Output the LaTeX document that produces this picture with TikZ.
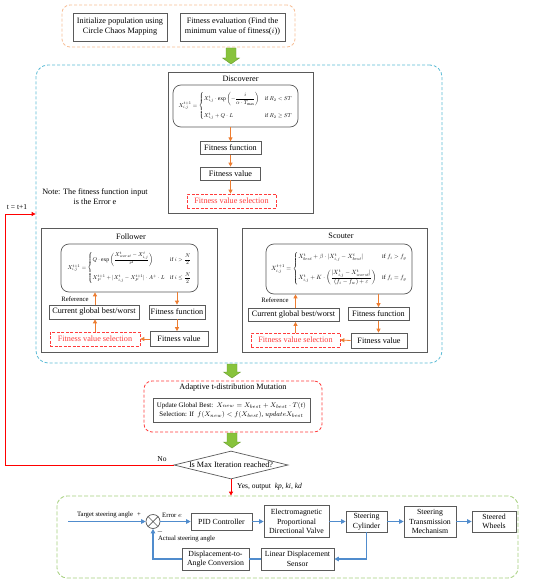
\documentclass[tikz,border=0pt]{standalone}
\usepackage{fontspec}
\setmainfont{Liberation Serif}
\usepackage{amsmath}
\usepackage{graphicx}
\usetikzlibrary{arrows.meta,shapes.geometric,calc}

\definecolor{cyanb}{RGB}{91,187,214}
\definecolor{orangeb}{RGB}{247,190,150}
\definecolor{greenb}{RGB}{165,208,125}
\definecolor{oarr}{RGB}{237,125,49}
\definecolor{redd}{RGB}{255,60,60}
\definecolor{gboxc}{RGB}{90,90,90}
\definecolor{blueline}{RGB}{80,140,205}
\definecolor{garrow}{RGB}{135,195,60}
\definecolor{garrowd}{RGB}{105,155,50}

\newcommand{\gblockarrow}[3]{\filldraw[fill=garrow,draw=garrowd,line width=0.4pt]
  ({#1-5},#2) -- ({#1+5},#2) -- ({#1+5},{#3-6}) -- ({#1+8.5},{#3-6}) -- (#1,#3)
  -- ({#1-8.5},{#3-6}) -- ({#1-5},{#3-6}) -- cycle;}

\tikzset{
  base/.style={font=\fontsize{8.2}{10}\selectfont, inner sep=0pt},
  smalltxt/.style={font=\fontsize{6.7}{8}\selectfont, inner sep=0pt},
  midtxt/.style={font=\fontsize{7.5}{9}\selectfont, inner sep=0pt},
  blk/.style={base, draw=gboxc, line width=0.7pt, inner sep=1pt, align=center},
  blkb/.style={font=\fontsize{7.8}{9.6}\selectfont, draw=gboxc, line width=0.7pt, inner sep=1pt, align=center},
  redbox/.style={base, draw=redd, line width=0.7pt, dash pattern=on 3pt off 1.5pt, text=redd, inner sep=1pt},
  fmbox/.style={draw=gboxc, line width=0.7pt, rounded corners=8pt, inner sep=0pt},
  frameo/.style={draw=orangeb, line width=0.8pt, dash pattern=on 3pt off 2pt, rounded corners=8pt},
  framec/.style={draw=cyanb, line width=0.8pt, dash pattern=on 3pt off 2pt, rounded corners=12pt},
  framer/.style={draw=redd, line width=0.8pt, dash pattern=on 3pt off 2pt, rounded corners=8pt},
  frameg/.style={draw=greenb, line width=0.8pt, dash pattern=on 4pt off 2pt, rounded corners=10pt},
  oarrow/.style={draw=oarr, line width=0.8pt, -{Triangle[length=4pt,width=4pt]}},
  barrow/.style={draw=blueline, line width=1.1pt, -{Triangle[length=4.5pt,width=4.5pt]}},
  bline/.style={draw=blueline, line width=1.1pt},
  rarrow/.style={draw=red, line width=0.8pt, -{Triangle[length=4pt,width=4pt]}},
}

\begin{document}
\begin{tikzpicture}[x=1pt,y=-1pt]
\fill[white] (0,0) rectangle (550,583);
\useasboundingbox (0,0) rectangle (550,583);

% ---------- top ----------
\node[frameo, minimum width=233, minimum height=42] (topframe) at (178.5,26) {};
\node[blk, minimum width=94, minimum height=28] (init) at (120,27) {Initialize population using\\Circle Chaos Mapping};
\node[blk, minimum width=105, minimum height=28] (feval) at (232.5,27) {Fitness evaluation (Find the\\minimum value of fitness($i$))};
\gblockarrow{231}{48}{64}

% ---------- cyan frame ----------
\node[framec, minimum width=406, minimum height=298] (cframe) at (239,214) {};

% ---------- discoverer ----------
\node[blk, minimum width=145, minimum height=141] (disc) at (240.5,142.5) {};
\node[base] (disct) at (240.5,79) {Discoverer};
\node[fmbox, minimum width=125, minimum height=42] (dform) at (235.5,106) {\resizebox{114pt}{!}{$X_{i,j}^{t+1}=\begin{cases}X_{i,j}^{t}\cdot\exp\left(-\dfrac{i}{\alpha\cdot T_{\max}}\right) & \text{if } R_2<ST\\[16pt] X_{i,j}^{t}+Q\cdot L & \text{if } R_2\geq ST\end{cases}$}};
\node[blk, minimum width=61, minimum height=12.5] (dff) at (230.5,148) {Fitness function};
\node[blk, minimum width=60, minimum height=13] (dfv) at (230.5,173.5) {Fitness value};
\node[redbox, minimum width=89, minimum height=14] (dfvs) at (231.5,201) {Fitness value selection};
\draw[oarrow] (dform.south -| dff) -- (dff.north);
\draw[oarrow] (dff.south) -- (dfv.north);
\draw[oarrow] (dfv.south) -- (dfvs.north -| dfv);

\node[base, align=center] (note) at (95,197) {Note: The fitness function input\\is the Error e};

% ---------- follower ----------
\node[blk, minimum width=176, minimum height=124] (fol) at (129,290) {};
\node[base] (folt) at (131,237) {Follower};
\node[fmbox, minimum width=137, minimum height=48] (fform) at (129.5,268) {\resizebox{124pt}{!}{$X_{i,j}^{t+1}=\begin{cases}Q\cdot\exp\left(\dfrac{X_{worst}^{t}-X_{i,j}^{t}}{i^{2}}\right) & \text{if } i>\dfrac{N}{2}\\[16pt] X_{P}^{t+1}+|X_{i,j}^{t}-X_{P}^{t+1}|\cdot A^{+}\cdot L & \text{if } i\leq\dfrac{N}{2}\end{cases}$}};
\node[blk, minimum width=90, minimum height=14] (fcg) at (94,312) {Current global best/worst};
\node[blk, minimum width=56, minimum height=14] (fff) at (177,312) {Fitness function};
\node[redbox, minimum width=90, minimum height=14] (ffvs) at (95,339) {Fitness value selection};
\node[blk, minimum width=58, minimum height=15] (ffv) at (179,339) {Fitness value};
\node[smalltxt] (fref) at (75,299) {Reference};
\draw[oarrow] (fform.south -| fff) -- (fff.north);
\draw[oarrow] (fff.south) -- (fff.south |- ffv.north);
\draw[oarrow] (ffv.west) -- (ffvs.east);
\draw[oarrow] (ffvs.north) -- (ffvs.north |- fcg.south);
\draw[oarrow] (fcg.north -| ffvs) -- (fform.south -| ffvs);

% ---------- scouter ----------
\node[blk, minimum width=185, minimum height=124] (sco) at (334.5,290) {};
\node[base] (scot) at (341,236) {Scouter};
\node[fmbox, minimum width=146, minimum height=50] (sform) at (339,269) {\resizebox{136pt}{!}{$X_{i,j}^{t+1}=\begin{cases}X_{best}^{t}+\beta\cdot|X_{i,j}^{t}-X_{best}^{t}| & \text{if } f_i>f_g\\[14pt] X_{i,j}^{t}+K\cdot\left(\dfrac{|X_{i,j}^{t}-X_{worst}^{t}|}{(f_i-f_w)+\varepsilon}\right) & \text{if } f_i=f_g\end{cases}$}};
\node[blk, minimum width=91, minimum height=13] (scg) at (293.5,315) {Current global best/worst};
\node[blk, minimum width=61, minimum height=13] (sff) at (378.5,314) {Fitness function};
\node[redbox, minimum width=89, minimum height=14] (sfvs) at (295.5,340) {Fitness value selection};
\node[blk, minimum width=56, minimum height=15] (sfv) at (379,340.5) {Fitness value};
\node[smalltxt] (sref) at (275,300) {Reference};
\draw[oarrow] (sform.south -| sff) -- (sff.north);
\draw[oarrow] (sff.south) -- (sff.south |- sfv.north);
\draw[oarrow] (sfv.west) -- (sfvs.east);
\draw[oarrow] (sfvs.north) -- (sfvs.north |- scg.south);
\draw[oarrow] (scg.north -| sfvs) -- (sform.south -| sfvs);

% ---------- adaptive ----------
\gblockarrow{232}{364}{378}
\node[framer, minimum width=178, minimum height=51] (adapt) at (233,406.5) {};
\node[base] (adaptt) at (233,388) {Adaptive t-distribution Mutation};
\node[blk, minimum width=157, minimum height=24, inner sep=0pt] (upd) at (231.5,410) {\resizebox{149pt}{!}{\begin{tabular}{@{}c@{}}Update Global Best:\ \ $X_{new}=X_{best}+X_{best}\cdot T(t)$\\[1pt]Selection: If\ \ $f(X_{new})<f(X_{best})$, $updateX_{best}$\end{tabular}}};
\gblockarrow{232}{433}{448}

% ---------- decision ----------
\node[diamond, draw=gboxc, line width=0.7pt, minimum width=114, minimum height=28, inner sep=0pt, font=\fontsize{8.2}{10}\selectfont] (dia) at (231,465) {\makebox[0pt][c]{Is Max Iteration reached?}};
\node[midtxt] (nolab) at (162,459) {No};
\node[midtxt] (tlab1) at (17,207) {t = t+1};
\coordinate (lp) at (5,214);
\coordinate (lq) at (5,465);
\draw[rarrow] (dia.west) -- (lq) -- (lp) -- (cframe.west |- lp);

% ---------- bottom ----------
\node[frameg, minimum width=461, minimum height=82] (bframe) at (287.5,537) {};
\draw[rarrow] (dia.south) -- (dia.south |- bframe.north);
\node[midtxt, anchor=west] (yes) at (237,487) {Yes, output\ \ \textit{kp, ki, kd}};

\node[blkb, minimum width=61, minimum height=17] (pid) at (221.5,521.5) {PID Controller};
\node[blkb, minimum width=65, minimum height=32] (em) at (296.5,521.5) {Electromagnetic\\Proportional\\Directional Valve};
\node[blkb, minimum width=41, minimum height=21] (cyl) at (366.5,521.5) {Steering\\Cylinder};
\node[blkb, minimum width=52, minimum height=31] (stm) at (430,521.5) {Steering\\Transmission\\Mechanism};
\node[blkb, minimum width=44, minimum height=21] (sw) at (494,521.5) {Steered\\Wheels};
\node[blkb, minimum width=73, minimum height=22] (lds) at (297.5,559) {Linear Displacement\\Sensor};
\node[blkb, minimum width=67, minimum height=22] (dac) at (215.5,559) {Displacement-to-\\Angle Conversion};

\node[draw=gboxc, line width=0.7pt, circle, minimum size=14, inner sep=0pt] (sum) at (153,521.5) {};
\draw[gboxc, line width=0.7pt] (sum.45) -- (sum.225) (sum.135) -- (sum.315);

\coordinate (tin) at (68,521.5);
\node[smalltxt] (tlab) at (105,515) {Target steering angle};
\node[smalltxt] (plus) at (139,515) {+};
\node[smalltxt] (elab) at (172,515) {Error $e$};
\node[smalltxt] (minus) at (160,532) {$-$};
\node[smalltxt] (alab) at (186.5,539) {Actual steering angle};

\draw[barrow] (tin) -- (sum.west);
\draw[barrow] (sum.east) -- (pid.west);
\draw[barrow] (pid.east) -- (em.west);
\draw[barrow] (em.east) -- (cyl.west);
\draw[barrow] (cyl.east) -- (stm.west);
\draw[barrow] (stm.east) -- (sw.west);
\draw[barrow] (cyl.south) |- (lds.east);
\draw[bline] (lds.west) -- (dac.east);
\draw[barrow] (dac.west) -| (sum.south);
\end{tikzpicture}
\end{document}
